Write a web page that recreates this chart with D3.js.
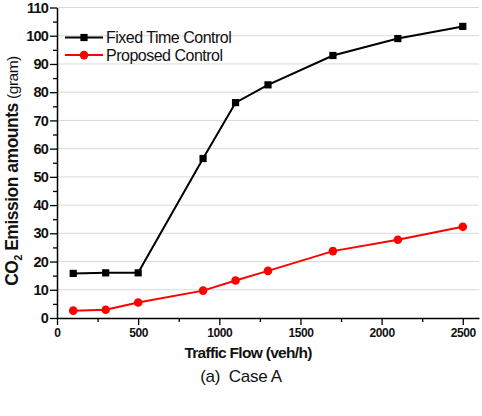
<!DOCTYPE html>
<html>
<head>
<meta charset="utf-8">
<script src="https://cdn.jsdelivr.net/npm/d3@7"></script>
<style>
  body { margin: 0; background: #fff; }
  svg text { font-family: "Liberation Sans", Arial, sans-serif; }
</style>
</head>
<body>
<div id="chart"></div>
<script>
// data
const flow = [100, 300, 500, 900, 1100, 1300, 1700, 2100, 2500];
const fixedTime = [15.8, 16.0, 16.0, 56.5, 76.3, 82.6, 93.0, 99.0, 103.3];
const proposed = [2.6, 2.9, 5.5, 9.7, 13.3, 16.7, 23.7, 27.7, 32.3];
const xTicks = [0, 500, 1000, 1500, 2000, 2500];
const yTicks = [0, 10, 20, 30, 40, 50, 60, 70, 80, 90, 100, 110];

const W = 482, H = 416;
const margin = { top: 7.5, right: 3, bottom: 98, left: 57 },
      width = W - margin.left - margin.right,
      height = H - margin.top - margin.bottom;

const svg = d3.select("#chart")
    .append("svg")
    .attr("width", W)
    .attr("height", H)
    .append("g")
    .attr("transform", `translate(${margin.left},${margin.top})`);

const x = d3.scaleLinear().domain([0, 2600]).range([0, width]);
const y = d3.scaleLinear().domain([0, 110]).range([height, 0]);

// gridlines
svg.append("g")
    .selectAll("line")
    .data(yTicks.filter(d => d > 0))
    .enter()
    .append("line")
    .attr("x1", 0).attr("x2", width)
    .attr("y1", d => y(d)).attr("y2", d => y(d))
    .attr("stroke", "#d9d9d9")
    .attr("stroke-width", 1);

// minor ticks
svg.append("g")
    .attr("transform", `translate(0,${height})`)
    .call(d3.axisBottom(x).tickValues(d3.range(250, 2600, 500)).tickSize(4).tickFormat(""))
    .call(g => g.select(".domain").remove())
    .selectAll("line").attr("stroke-width", 1.3);

svg.append("g")
    .call(d3.axisLeft(y).tickValues(d3.range(5, 110, 10)).tickSize(4).tickFormat(""))
    .call(g => g.select(".domain").remove())
    .selectAll("line").attr("stroke-width", 1.3);

// x axis
const xAxis = svg.append("g")
    .attr("transform", `translate(0,${height})`)
    .call(d3.axisBottom(x).tickValues(xTicks).tickFormat(d3.format("d")).tickSize(7).tickSizeOuter(0).tickPadding(3));
xAxis.select(".domain").attr("stroke-width", 1.5);
xAxis.selectAll("line").attr("stroke-width", 1.3);
xAxis.selectAll("text")
    .style("font-size", "12px")
    .style("font-weight", "bold")
    .style("letter-spacing", "-0.4px")
    .style("fill", "#111");

// y axis
const yAxis = svg.append("g")
    .call(d3.axisLeft(y).tickValues(yTicks).tickSize(7).tickSizeOuter(0).tickPadding(2));
yAxis.select(".domain").attr("stroke-width", 1.5);
yAxis.selectAll("line").attr("stroke-width", 1.3);
yAxis.selectAll("text")
    .style("font-size", "14.5px")
    .style("font-weight", "bold")
    .style("letter-spacing", "-0.8px")
    .style("fill", "#111");

// series
const series = [
    { name: "Fixed Time Control", values: fixedTime, color: "#000", shape: "square" },
    { name: "Proposed Control", values: proposed, color: "#ff0000", shape: "circle" }
];

const line = d3.line()
    .x(d => x(d[0]))
    .y(d => y(d[1]));

series.forEach(s => {
    const pts = flow.map((f, i) => [f, s.values[i]]);
    svg.append("path")
        .datum(pts)
        .attr("fill", "none")
        .attr("stroke", s.color)
        .attr("stroke-width", 2)
        .attr("d", line);

    if (s.shape === "square") {
        svg.selectAll(".sq")
            .data(pts)
            .enter()
            .append("rect")
            .attr("x", d => x(d[0]) - 3.6)
            .attr("y", d => y(d[1]) - 3.6)
            .attr("width", 7.2)
            .attr("height", 7.2)
            .attr("fill", s.color);
    } else {
        svg.selectAll(".ci")
            .data(pts)
            .enter()
            .append("circle")
            .attr("cx", d => x(d[0]))
            .attr("cy", d => y(d[1]))
            .attr("r", 4.3)
            .attr("fill", s.color);
    }
});

// legend
const legend = svg.append("g").attr("transform", `translate(8,${37.5 - margin.top})`);
series.forEach((s, i) => {
    const g = legend.append("g").attr("transform", `translate(0,${i * 17.6})`);
    g.append("line")
        .attr("x1", 0).attr("x2", 38)
        .attr("stroke", s.color).attr("stroke-width", 2);
    if (s.shape === "square") {
        g.append("rect").attr("x", 15.4).attr("y", -3.6).attr("width", 7.2).attr("height", 7.2).attr("fill", s.color);
    } else {
        g.append("circle").attr("cx", 19).attr("r", 4.3).attr("fill", s.color);
    }
    g.append("text")
        .attr("x", 41)
        .attr("y", 5.6)
        .style("font-size", "16px")
        .style("letter-spacing", "-0.5px")
        .style("fill", "#111")
        .text(s.name);
});

// axis titles
svg.append("text")
    .attr("x", 248 - margin.left)
    .attr("y", 358 - margin.top)
    .attr("text-anchor", "middle")
    .style("font-size", "15.5px")
    .style("font-weight", "bold")
    .style("letter-spacing", "-0.7px")
    .style("fill", "#111")
    .text("Traffic Flow (veh/h)");

svg.append("text")
    .attr("x", 241 - margin.left)
    .attr("y", 382 - margin.top)
    .attr("text-anchor", "middle")
    .style("font-size", "17px")
    .style("letter-spacing", "-0.3px")
    .style("fill", "#111")
    .attr("xml:space", "preserve")
    .text("(a)  Case A");

const yTitle = svg.append("text")
    .attr("transform", `translate(${17.5 - margin.left},${171 - margin.top}) rotate(-90)`)
    .attr("text-anchor", "middle")
    .style("font-size", "17.5px")
    .style("letter-spacing", "-0.5px")
    .style("fill", "#111");
yTitle.append("tspan").style("font-weight", "bold").text("CO");
yTitle.append("tspan").style("font-weight", "bold").style("font-size", "10.5px").attr("dy", 4).text("2");
yTitle.append("tspan").style("font-weight", "bold").attr("dy", -4).text(" Emission amounts ");
yTitle.append("tspan").style("font-size", "15.5px").text("(gram)");
</script>
</body>
</html>
